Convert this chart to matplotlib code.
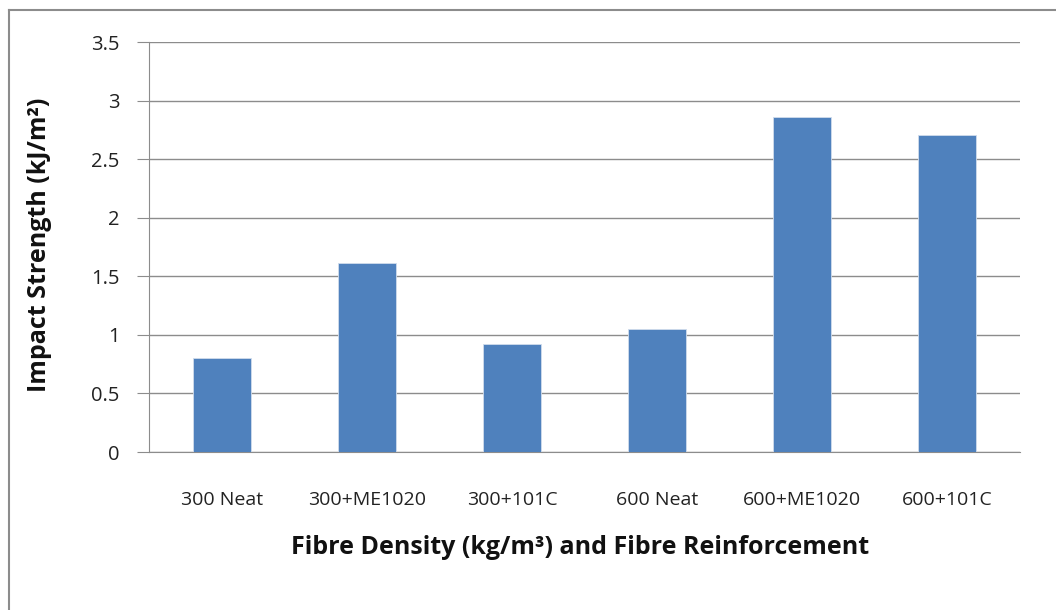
import matplotlib
matplotlib.use('Agg')
import matplotlib.pyplot as plt
from matplotlib.lines import Line2D

categories = ["300 Neat", "300+ME1020", "300+101C", "600 Neat", "600+ME1020", "600+101C"]
impact_strength = [0.80, 1.61, 0.92, 1.05, 2.86, 2.71]
y_ticks = [0, 0.5, 1, 1.5, 2, 2.5, 3, 3.5]
y_tick_labels = ["0", "0.5", "1", "1.5", "2", "2.5", "3", "3.5"]

plt.rcParams['font.family'] = ['Open Sans', 'DejaVu Sans']

W, H = 1056, 610
fig = plt.figure(figsize=(W / 100, H / 100), dpi=100)
fig.patch.set_facecolor("white")

# outer chart frame (only top and left edges visible in the crop)
fig.add_artist(Line2D([9 / W, 9 / W], [0, 1 - 10 / H], color="#8c8c8c", lw=1.5))
fig.add_artist(Line2D([9 / W, 1], [1 - 10 / H, 1 - 10 / H], color="#8c8c8c", lw=1.5))

ax = fig.add_axes([149 / W, 1 - 452 / H, (1020 - 149) / W, (452 - 42) / H])
x = range(len(categories))
ax.bar(x, impact_strength, width=0.4, color="#4F81BD", edgecolor="#d0dcec", linewidth=0.6, zorder=3)

ax.set_xlim(-0.5, len(categories) - 0.5)
ax.set_ylim(0, 3.5)
ax.set_yticks(y_ticks)
ax.set_yticklabels(y_tick_labels, fontsize=14.5, color="#222")
ax.set_xticks(list(x))
ax.set_xticklabels(categories, fontsize=14, color="#222")
ax.yaxis.grid(True, color="#8c8c8c", linewidth=1, zorder=0)
ax.set_axisbelow(True)

for s in ["top", "right"]:
    ax.spines[s].set_visible(False)
ax.spines["left"].set_color("#8c8c8c")
ax.spines["bottom"].set_color("#8c8c8c")
ax.tick_params(axis="y", length=9, color="#8c8c8c", pad=12)
ax.tick_params(axis="x", length=0, pad=28)

fig.text(40 / W, 1 - 245 / H, "Impact Strength (kJ/m²)", rotation=90,
         ha="center", va="center", fontsize=18, fontweight="bold", color="#111")
fig.text(580 / W, 1 - 547 / H, "Fibre Density (kg/m³) and Fibre Reinforcement",
         ha="center", va="center", fontsize=18, fontweight="bold", color="#111")

fig.savefig("out.png", dpi=100, facecolor=fig.get_facecolor())
plt.close(fig)
